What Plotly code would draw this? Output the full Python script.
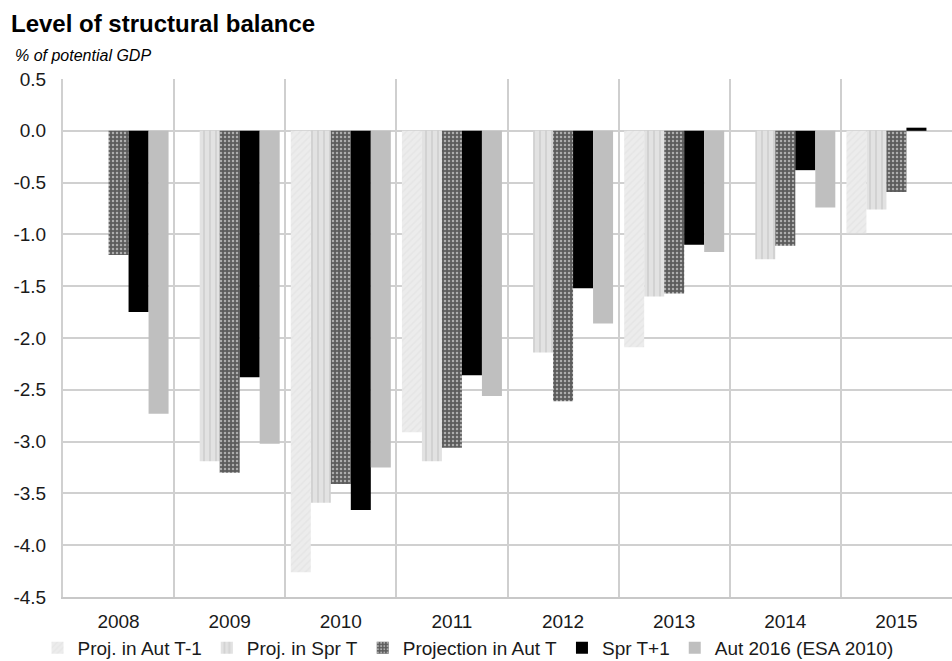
import plotly.graph_objects as go

years = ["2008", "2009", "2010", "2011", "2012", "2013", "2014", "2015"]
aut_t1 = [None, None, -4.26, -2.91, None, -2.09, None, -0.99]
spr_t = [None, -3.19, -3.59, -3.19, -2.14, -1.60, -1.24, -0.76]
proj_aut_t = [-1.20, -3.30, -3.41, -3.06, -2.61, -1.57, -1.11, -0.59]
spr_t1 = [-1.75, -2.38, -3.66, -2.36, -1.52, -1.10, -0.38, 0.03]
aut_2016 = [-2.73, -3.02, -3.25, -2.56, -1.86, -1.17, -0.74, None]

series_names = ["Proj. in Aut T-1", "Proj. in Spr T", "Projection in Aut T", "Spr T+1", "Aut 2016 (ESA 2010)"]
ytick_vals = [0.5, 0.0, -0.5, -1.0, -1.5, -2.0, -2.5, -3.0, -3.5, -4.0, -4.5]
ytick_text = [f"{v:.1f}" for v in ytick_vals]

xpos = list(range(len(years)))
FONT = "Arial, Liberation Sans, sans-serif"

W, H = 952, 661
ML, MR, MT, MB = 63, 0, 79, 64

styles = [
    dict(color="#ebebeb", pattern=dict(shape="/", fgcolor="#dedede", bgcolor="#ececec", size=5, solidity=0.3)),
    dict(color="#d4d4d4", pattern=dict(shape="|", fgcolor="#c2c2c2", bgcolor="#e2e2e2", size=6, solidity=0.35)),
    dict(color="#707070", pattern=dict(shape=".", fgcolor="#ffffff", bgcolor="#5c5c5c", size=4, solidity=0.3)),
    dict(color="#000000"),
    dict(color="#bfbfbf"),
]

fig = go.Figure()
for name, vals, st in zip(series_names, [aut_t1, spr_t, proj_aut_t, spr_t1, aut_2016], styles):
    marker = dict(color=st["color"], line=dict(width=0))
    if "pattern" in st:
        marker["pattern"] = st["pattern"]
    fig.add_trace(go.Bar(x=xpos, y=vals, name=name, marker=marker))

fig.update_layout(
    width=W, height=H,
    barmode="group", bargap=0.1, bargroupgap=0,
    plot_bgcolor="white", paper_bgcolor="white",
    margin=dict(l=ML, r=MR, t=MT, b=MB, autoexpand=False),
    font=dict(family=FONT, color="#1a1a1a", size=19),
    showlegend=True,
    legend=dict(orientation="h", x=0.4556, xanchor="center", yref="container", y=0.02, yanchor="middle",
                bgcolor="rgba(0,0,0,0)",
                font=dict(size=19, family=FONT), itemwidth=30, tracegroupgap=0),
    xaxis=dict(
        range=[-0.5, len(years) - 0.5],
        tickvals=xpos, ticktext=years,
        showgrid=False, zeroline=False,
        showline=True, linecolor="#c8c8c8", linewidth=2, mirror=False,
        ticks="", tickfont=dict(size=19), ticklabelstandoff=6,
        minor=dict(tickvals=[i + 0.5 for i in range(len(years) - 1)],
                   showgrid=True, gridcolor="#cfcfcf", gridwidth=2),
    ),
    yaxis=dict(
        range=[-4.5, 0.5],
        tickvals=ytick_vals, ticktext=ytick_text,
        showgrid=True, gridcolor="#d0d0d0", gridwidth=2,
        zeroline=False, showline=True, linecolor="#d0d0d0", linewidth=2,
        ticks="", tickfont=dict(size=19), ticklabelstandoff=11,
    ),
)

pw, ph = W - ML - MR, H - MT - MB


def ann(text, px, py, size):
    return dict(text=text, xref="paper", yref="paper",
                x=(px - ML) / pw, y=(H - MB - py) / ph,
                showarrow=False, font=dict(size=size, family=FONT, color="#000000"),
                xanchor="left", yanchor="middle")


fig.update_layout(annotations=[
    ann("<b>Level of structural balance</b>", 9, 23, 24),
    ann("<i>% of potential GDP</i>", 13, 55, 16),
])

fig.write_html("out.html")
